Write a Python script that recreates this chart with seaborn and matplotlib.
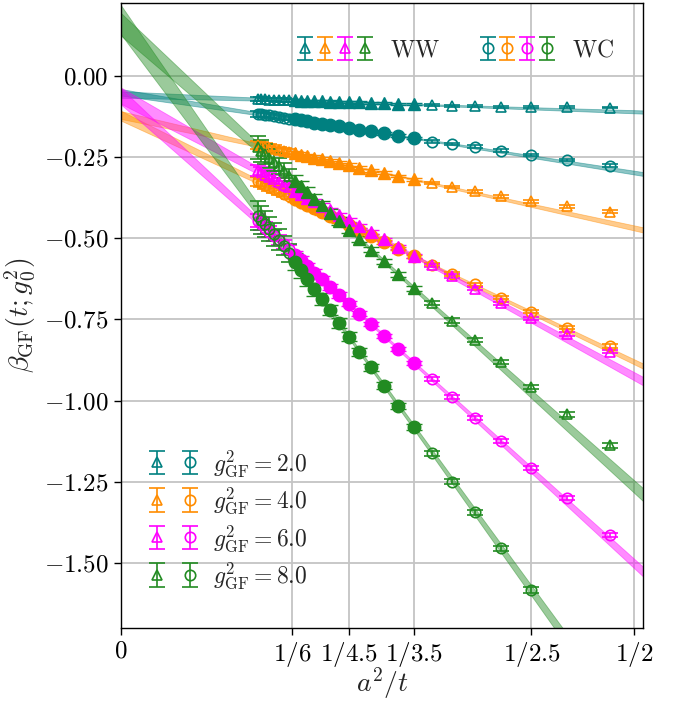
import numpy as np
import matplotlib
matplotlib.use("Agg")
import matplotlib.pyplot as plt
import seaborn as sns
from matplotlib.legend_handler import HandlerTuple

# ---------------- data ----------------
t_over_a2 = [7.5, 7.3, 7.1, 6.9, 6.7, 6.5, 6.3, 6.1,
             5.9, 5.7, 5.5, 5.3, 5.1, 4.9, 4.7, 4.5, 4.3, 4.1, 3.9, 3.7, 3.5,
             3.3, 3.1, 2.9, 2.7, 2.5, 2.3, 2.1]
fit_t_min, fit_t_max = 3.5, 5.9

g2_values = [2.0, 4.0, 6.0, 8.0]
colors = ["#008080", "#ff8c00", "#ff00ff", "#228b22"]

ww_2 = [-0.071, -0.0715, -0.072, -0.0725, -0.073, -0.0735, -0.074, -0.0745,
        -0.075, -0.0757, -0.0764, -0.0771, -0.0778, -0.0786, -0.0795, -0.0805, -0.0815, -0.0826, -0.0838, -0.085, -0.0863,
        -0.089, -0.091, -0.093, -0.094, -0.095, -0.096, -0.097]
wc_2 = [-0.117, -0.1185, -0.120, -0.1215, -0.1235, -0.1255, -0.128, -0.131,
        -0.1339, -0.1368, -0.140, -0.1434, -0.1471, -0.151, -0.1553, -0.160, -0.1651, -0.1707, -0.1769, -0.1838, -0.1914,
        -0.2024, -0.2096, -0.218, -0.230, -0.2435, -0.259, -0.276]
ww_4 = [-0.213, -0.2154, -0.218, -0.221, -0.224, -0.227, -0.2305, -0.234,
        -0.238, -0.2421, -0.2465, -0.2513, -0.2565, -0.2621, -0.2681, -0.2747, -0.2819, -0.2898, -0.2985, -0.3081, -0.3188,
        -0.330, -0.342, -0.355, -0.371, -0.386, -0.402, -0.418]
wc_4 = [-0.324, -0.330, -0.3356, -0.3418, -0.3485, -0.3553, -0.3628, -0.3706,
        -0.379, -0.388, -0.398, -0.408, -0.4195, -0.4316, -0.4448, -0.4591, -0.4749, -0.492, -0.511, -0.532, -0.5554,
        -0.581, -0.610, -0.642, -0.683, -0.726, -0.775, -0.832]
ww_6 = [-0.2906, -0.297, -0.3036, -0.3107, -0.3183, -0.3261, -0.3346, -0.3435,
        -0.3532, -0.3634, -0.3745, -0.3865, -0.3993, -0.4131, -0.4281, -0.4444, -0.4624, -0.4819, -0.5036, -0.5276, -0.5543,
        -0.583, -0.616, -0.655, -0.700, -0.747, -0.795, -0.850]
wc_6 = [-0.446, -0.4566, -0.4675, -0.4793, -0.492, -0.505, -0.519, -0.534,
        -0.5502, -0.5672, -0.5856, -0.6055, -0.6268, -0.6498, -0.6749, -0.7019, -0.7319, -0.7644, -0.8004, -0.8405, -0.8848,
        -0.935, -0.990, -1.054, -1.125, -1.207, -1.301, -1.414]
ww_8 = [-0.220, -0.2305, -0.2413, -0.253, -0.2655, -0.2783, -0.2923, -0.3071,
        -0.3231, -0.3399, -0.3581, -0.3778, -0.3989, -0.4217, -0.4465, -0.4733, -0.5029, -0.5351, -0.5707, -0.6104, -0.6542,
        -0.700, -0.754, -0.814, -0.882, -0.959, -1.043, -1.138]
wc_8 = [-0.430, -0.443, -0.457, -0.472, -0.488, -0.505, -0.523, -0.545,
        -0.572, -0.598, -0.627, -0.657, -0.688, -0.721, -0.762, -0.803, -0.850, -0.898, -0.954, -1.017, -1.082,
        -1.163, -1.250, -1.345, -1.455, -1.584, -1.73, -1.91]

ww_2_err = [0.006, 0.0058, 0.0056, 0.0054, 0.0052, 0.005, 0.0048, 0.0046,
            0.0044, 0.0042, 0.004, 0.0039, 0.0038, 0.0037, 0.0036, 0.0035, 0.0034, 0.0033, 0.0032, 0.0031, 0.003,
            0.003, 0.003, 0.003, 0.003, 0.003, 0.003, 0.003]
wc_2_err = [0.008, 0.0077, 0.0074, 0.0071, 0.0068, 0.0065, 0.0062, 0.006,
            0.0057, 0.0055, 0.0053, 0.0051, 0.0049, 0.0047, 0.0045, 0.0044, 0.0043, 0.0042, 0.0041, 0.004, 0.004,
            0.004, 0.004, 0.004, 0.004, 0.004, 0.004, 0.004]
ww_4_err = [0.012, 0.0115, 0.011, 0.0105, 0.010, 0.0095, 0.009, 0.0085,
            0.008, 0.0076, 0.0072, 0.0068, 0.0064, 0.006, 0.0057, 0.0054, 0.0051, 0.0048, 0.0046, 0.0044, 0.0042,
            0.004, 0.004, 0.004, 0.004, 0.004, 0.004, 0.004]
wc_4_err = [0.014, 0.0134, 0.0128, 0.0122, 0.0116, 0.011, 0.0104, 0.0098,
            0.0093, 0.0088, 0.0083, 0.0078, 0.0074, 0.007, 0.0066, 0.0062, 0.0059, 0.0056, 0.0053, 0.0051, 0.005,
            0.005, 0.005, 0.005, 0.005, 0.005, 0.005, 0.005]
ww_6_err = [0.016, 0.0152, 0.0145, 0.0138, 0.0131, 0.0124, 0.0117, 0.011,
            0.0104, 0.0098, 0.0092, 0.0087, 0.0082, 0.0077, 0.0072, 0.0068, 0.0064, 0.006, 0.0057, 0.0054, 0.0052,
            0.005, 0.005, 0.005, 0.005, 0.005, 0.005, 0.005]
wc_6_err = [0.020, 0.019, 0.018, 0.017, 0.016, 0.015, 0.014, 0.0132,
            0.0124, 0.0116, 0.0108, 0.0101, 0.0095, 0.0089, 0.0083, 0.0078, 0.0073, 0.0069, 0.0065, 0.0062, 0.006,
            0.006, 0.006, 0.006, 0.006, 0.006, 0.006, 0.006]
ww_8_err = [0.035, 0.033, 0.031, 0.029, 0.027, 0.025, 0.023, 0.021,
            0.019, 0.0175, 0.016, 0.0148, 0.0136, 0.0124, 0.0113, 0.0103, 0.0094, 0.0086, 0.008, 0.0075, 0.007,
            0.007, 0.007, 0.007, 0.007, 0.007, 0.007, 0.007]
wc_8_err = [0.045, 0.0425, 0.040, 0.0375, 0.035, 0.0325, 0.030, 0.0277,
            0.0255, 0.0234, 0.0214, 0.0196, 0.0179, 0.0163, 0.0149, 0.0136, 0.0124, 0.0113, 0.0104, 0.0096, 0.009,
            0.008, 0.008, 0.008, 0.008, 0.008, 0.008, 0.008]

# linear fits (intercept, slope) and band half-widths at x=0, data centre, x=x_max
ww_fit_intercept = [-0.057, -0.120, -0.060, 0.160]
ww_fit_slope = [-0.106, -0.696, -1.730, -2.850]
wc_fit_intercept = [-0.050, -0.122, -0.062, 0.175]
wc_fit_slope = [-0.495, -1.517, -2.880, -4.400]
ww_band_err = [(0.010, 0.002, 0.005), (0.012, 0.002, 0.008), (0.025, 0.004, 0.013), (0.035, 0.005, 0.020)]
wc_band_err = [(0.010, 0.002, 0.006), (0.015, 0.003, 0.008), (0.025, 0.004, 0.015), (0.045, 0.006, 0.025)]
band_centre = 0.23

xtick_denoms = [6, 4.5, 3.5, 2.5, 2]
xtick_labels = ["$0$", "$1/6$", "$1/4.5$", "$1/3.5$", "$1/2.5$", "$1/2$"]
ytick_values = [0.0, -0.25, -0.5, -0.75, -1.0, -1.25, -1.5]

# ---------------- style ----------------
sns.set_theme(style="ticks")
plt.rcParams["font.family"] = ["cmr10", "DejaVu Serif"]
plt.rcParams["mathtext.fontset"] = "cm"
plt.rcParams["axes.unicode_minus"] = False
plt.rcParams["axes.formatter.use_mathtext"] = True

W, H = 683, 702
fig = plt.figure(figsize=(W / 100, H / 100), dpi=100)
x0, x1, ytop, ybot = 120.7, 643.3, 2.7, 628.3
ax = fig.add_axes([x0 / W, 1 - ybot / H, (x1 - x0) / W, (ybot - ytop) / H])

XMAX = 0.509
ax.set_xlim(0, XMAX)
ax.set_ylim(-1.702, 0.226)

t = np.array(t_over_a2)
x = 1.0 / t
fit_mask = (t >= fit_t_min - 1e-9) & (t <= fit_t_max + 1e-9)

ww_all = [ww_2, ww_4, ww_6, ww_8]
wc_all = [wc_2, wc_4, wc_6, wc_8]
ww_err_all = [ww_2_err, ww_4_err, ww_6_err, ww_8_err]
wc_err_all = [wc_2_err, wc_4_err, wc_6_err, wc_8_err]

xg = np.linspace(0, XMAX, 300)


def band(ax, a, b, errs, c):
    e0, ec, e1 = errs
    kl = np.sqrt(max(e0 ** 2 - ec ** 2, 0)) / band_centre
    kr = np.sqrt(max(e1 ** 2 - ec ** 2, 0)) / (XMAX - band_centre)
    k = np.where(xg < band_centre, kl, kr)
    err = np.sqrt(ec ** 2 + (k * (xg - band_centre)) ** 2)
    yc = a + b * xg
    ax.fill_between(xg, yc - err, yc + err, color=c, alpha=0.45, lw=0.6, zorder=2)


ms = 7.5
cap = 5.5
ww_handles, wc_handles = [], []
for i, c in enumerate(colors):
    band(ax, ww_fit_intercept[i], ww_fit_slope[i], ww_band_err[i], c)
    band(ax, wc_fit_intercept[i], wc_fit_slope[i], wc_band_err[i], c)

for i, c in enumerate(colors):
    for vals, errs, mk, store in ((ww_all[i], ww_err_all[i], "^", ww_handles),
                                  (wc_all[i], wc_err_all[i], "o", wc_handles)):
        y = np.array(vals)
        e = np.array(errs)
        op = ~fit_mask
        h = ax.errorbar(x[op], y[op], yerr=e[op], fmt=mk, color=c, mfc="none", mec=c,
                        ms=ms, mew=1.2, capsize=cap, capthick=1.2, elinewidth=1.2, zorder=3)
        ax.errorbar(x[fit_mask], y[fit_mask], yerr=e[fit_mask], fmt=mk, color=c, mfc=c, mec=c,
                    ms=ms + 1.5, mew=1.0, capsize=cap, capthick=1.2, elinewidth=1.2, zorder=3)
        store.append(h)

# axes
xticks = [0.0] + [1.0 / d for d in xtick_denoms]
ax.set_xticks(xticks)
ax.set_xticklabels(xtick_labels)
ax.set_yticks(ytick_values)
ax.set_yticklabels([f"${v:.2f}$" for v in ytick_values])
ax.tick_params(direction="out", length=5, width=1, labelsize=18, colors="black")
ax.grid(True, color="#c4c4c4", lw=1.3, zorder=0)
ax.set_axisbelow(True)
for s in ax.spines.values():
    s.set_color("black")
    s.set_linewidth(1.0)
ax.set_xlabel(r"$a^2/t$", fontsize=20, labelpad=-3)
ax.set_ylabel(r"$\beta_{\rm GF}(t;g_0^2)$", fontsize=20, labelpad=4)

leg1 = ax.legend([tuple(ww_handles), tuple(wc_handles)], [r"$\mathrm{WW}$", r"$\mathrm{WC}$"],
                 handler_map={tuple: HandlerTuple(ndivide=None, pad=0.3)},
                 loc="upper right", bbox_to_anchor=(0.985, 0.975), ncol=2, frameon=False,
                 fontsize=17, handlelength=3.05, handletextpad=0.8, columnspacing=1.75)
ax.add_artist(leg1)

labels2 = [rf"$g^2_{{\rm GF}} = {g:.1f}$" for g in g2_values]
ax.legend([(ww_handles[i], wc_handles[i]) for i in range(4)], labels2,
          handler_map={tuple: HandlerTuple(ndivide=None, pad=0.6)},
          loc="lower left", bbox_to_anchor=(0.01, 0.025), frameon=False,
          fontsize=17, handlelength=2.2, handletextpad=0.6, labelspacing=0.28)

fig.savefig("out.png", dpi=100)
